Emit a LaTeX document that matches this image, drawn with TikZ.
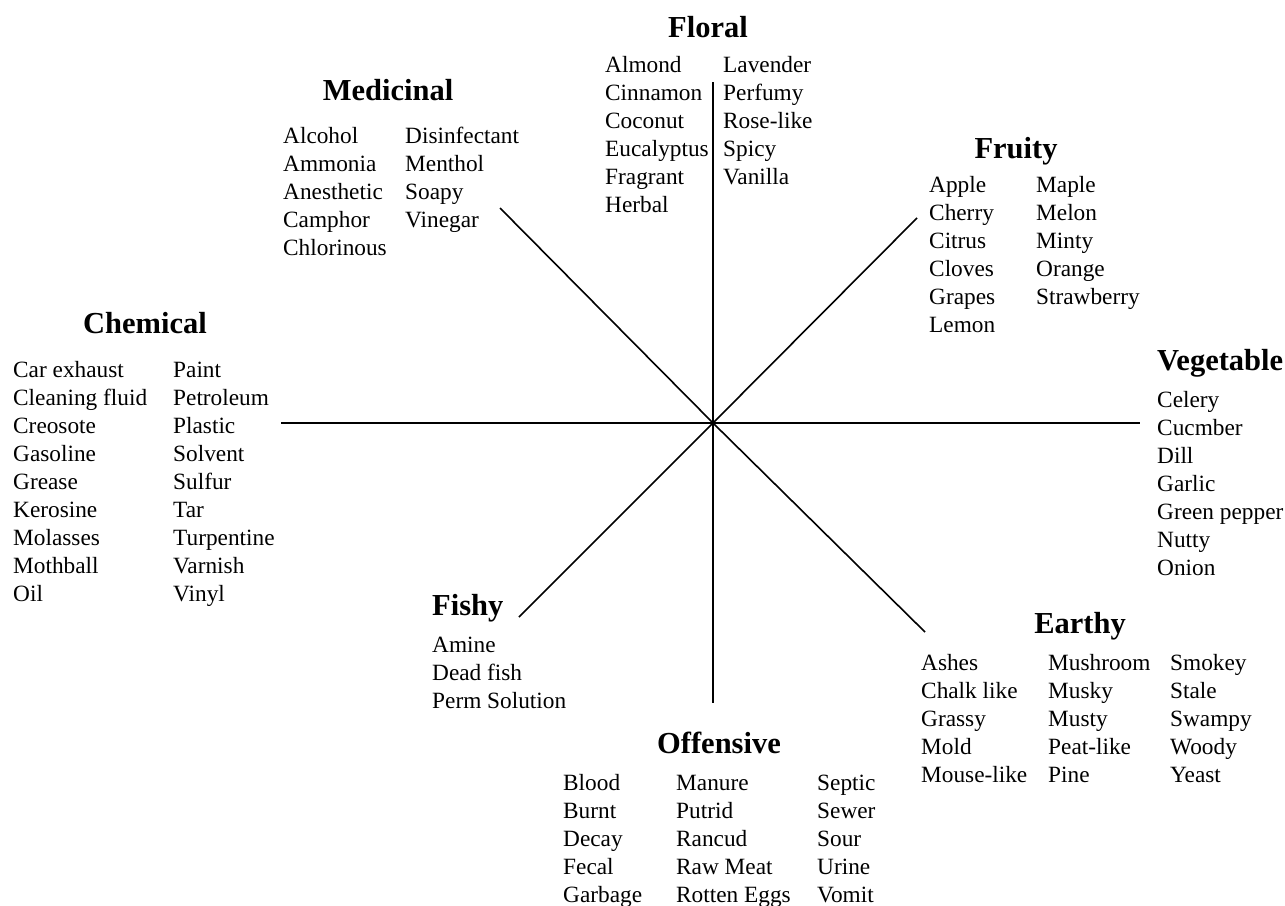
\documentclass[tikz,border=0pt]{standalone}
\usepackage{fontspec}
\setmainfont{Liberation Serif}
\tikzset{
  item/.style={anchor=base west, inner sep=0pt, font=\fontsize{23.3}{28}\selectfont},
  cat/.style={anchor=base, inner sep=0pt, font=\fontsize{30.5}{36}\selectfont\bfseries},
  catw/.style={cat, anchor=base west},
  spoke/.style={line width=1.6pt, black}
}
\newcommand\wordcol[4]{%
  \foreach \w [count=\i] in {#4} {\node[item] (#1-\i) at (#2, {#3+28*(\i-1)}) {\w};}}
\begin{document}
\begin{tikzpicture}[x=1pt, y=-1pt]
\useasboundingbox (0,0) rectangle (1285,905);
\fill[white] (0,0) rectangle (1285,905);
% spokes
\coordinate (c) at (713,423);
\coordinate (eN) at (713,82);
\coordinate (eS) at (713,703);
\coordinate (eW) at (281,423);
\coordinate (eE) at (1140,423);
\coordinate (eNW) at (500,208);
\coordinate (eNE) at (917,218);
\coordinate (eSW) at (519,617);
\coordinate (eSE) at (925,632);
\foreach \e in {eN,eS,eW,eE,eNW,eNE,eSW,eSE} \draw[spoke] (c) -- (\e);
% Floral
\node[cat] (floral) at (708,37) {Floral};
\wordcol{fl1}{605}{72}{Almond,Cinnamon,Coconut,Eucalyptus,Fragrant,Herbal}
\wordcol{fl2}{723}{72}{Lavender,Perfumy,Rose-like,Spicy,Vanilla}
% Medicinal
\node[cat] (medicinal) at (388,100) {Medicinal};
\wordcol{me1}{283}{143}{Alcohol,Ammonia,Anesthetic,Camphor,Chlorinous}
\wordcol{me2}{405}{143}{Disinfectant,Menthol,Soapy,Vinegar}
% Fruity
\node[cat] (fruity) at (1016,158) {Fruity};
\wordcol{fr1}{929}{192}{Apple,Cherry,Citrus,Cloves,Grapes,Lemon}
\wordcol{fr2}{1036}{192}{Maple,Melon,Minty,Orange,Strawberry}
% Chemical
\node[cat] (chemical) at (145,333) {Chemical};
\wordcol{ch1}{13}{377}{Car exhaust,Cleaning fluid,Creosote,Gasoline,Grease,Kerosine,Molasses,Mothball,Oil}
\wordcol{ch2}{173}{377}{Paint,Petroleum,Plastic,Solvent,Sulfur,Tar,Turpentine,Varnish,Vinyl}
% Vegetable
\node[catw] (vegetable) at (1157,370) {Vegetable};
\wordcol{ve1}{1157}{407}{Celery,Cucmber,Dill,Garlic,Green pepper,Nutty,Onion}
% Earthy
\node[cat] (earthy) at (1080,633) {Earthy};
\wordcol{ea1}{921}{670}{Ashes,Chalk like,Grassy,Mold,Mouse-like}
\wordcol{ea2}{1048}{670}{Mushroom,Musky,Musty,Peat-like,Pine}
\wordcol{ea3}{1170}{670}{Smokey,Stale,Swampy,Woody,Yeast}
% Fishy
\node[catw] (fishy) at (432,615) {Fishy};
\wordcol{fi1}{432}{652}{Amine,Dead fish,Perm Solution}
% Offensive
\node[cat] (offensive) at (719,753) {Offensive};
\wordcol{of1}{563}{790}{Blood,Burnt,Decay,Fecal,Garbage}
\wordcol{of2}{676}{790}{Manure,Putrid,Rancud,Raw Meat,Rotten Eggs}
\wordcol{of3}{817}{790}{Septic,Sewer,Sour,Urine,Vomit}
\end{tikzpicture}
\end{document}
